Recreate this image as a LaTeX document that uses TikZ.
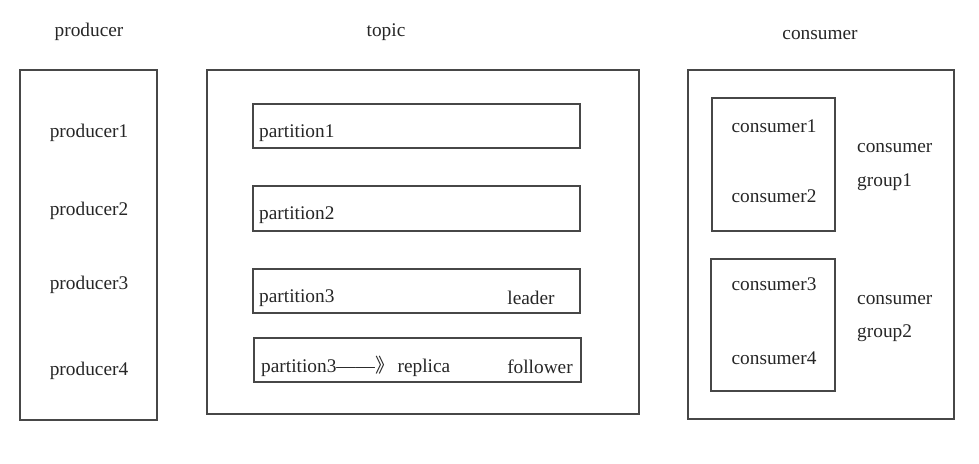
\documentclass[tikz,border=0pt]{standalone}
\usepackage{fontspec}
\setmainfont{Liberation Serif}
\newfontfamily\cjk{Noto Sans CJK SC}
\begin{document}
\begin{tikzpicture}[x=0.03cm, y=-0.03cm,
  box/.style={draw=black!72, line width=1.4pt},
  every node/.style={font=\fontsize{16.5}{20}\selectfont, text=black!85, inner sep=0pt, yshift=-2pt}]
\useasboundingbox (0,0) rectangle (979,463);
% titles
\node (tprod) at (89,30) {producer};
\node (ttopic) at (386,30) {topic};
\node (tcons) at (820,33) {consumer};
% producer side
\draw[box] (20,70) rectangle (157,420);
\node (p1) at (89,131) {producer1};
\node (p2) at (89,208) {producer2};
\node (p3) at (89,282) {producer3};
\node (p4) at (89,368) {producer4};
% topic with partitions
\draw[box] (207,70) rectangle (639,414);
\draw[box] (253,104) rectangle (580,148);
\draw[box] (253,186) rectangle (580,231);
\draw[box] (253,269) rectangle (580,313);
\draw[box] (254,338) rectangle (581,382);
\node[anchor=west] (part1) at (259,131) {partition1};
\node[anchor=west] (part2) at (259,213) {partition2};
\node[anchor=west] (part3) at (259,296) {partition3};
\node (lead) at (531,296) {leader};
\node[anchor=west] (rep) at (261,364) {partition3——{\cjk 》}\,replica};
\node (foll) at (540,364) {follower};
% consumer side
\draw[box] (688,70) rectangle (954,419);
\draw[box] (712,98) rectangle (835,231);
\draw[box] (711,259) rectangle (835,391);
\node (c1) at (774,124) {consumer1};
\node (c2) at (774,194) {consumer2};
\node (c3) at (774,282) {consumer3};
\node (c4) at (774,356) {consumer4};
\node[anchor=west] (g1a) at (857,146) {consumer};
\node[anchor=west] (g1b) at (857,180) {group1};
\node[anchor=west] (g2a) at (857,298) {consumer};
\node[anchor=west] (g2b) at (857,331) {group2};
\end{tikzpicture}
\end{document}
